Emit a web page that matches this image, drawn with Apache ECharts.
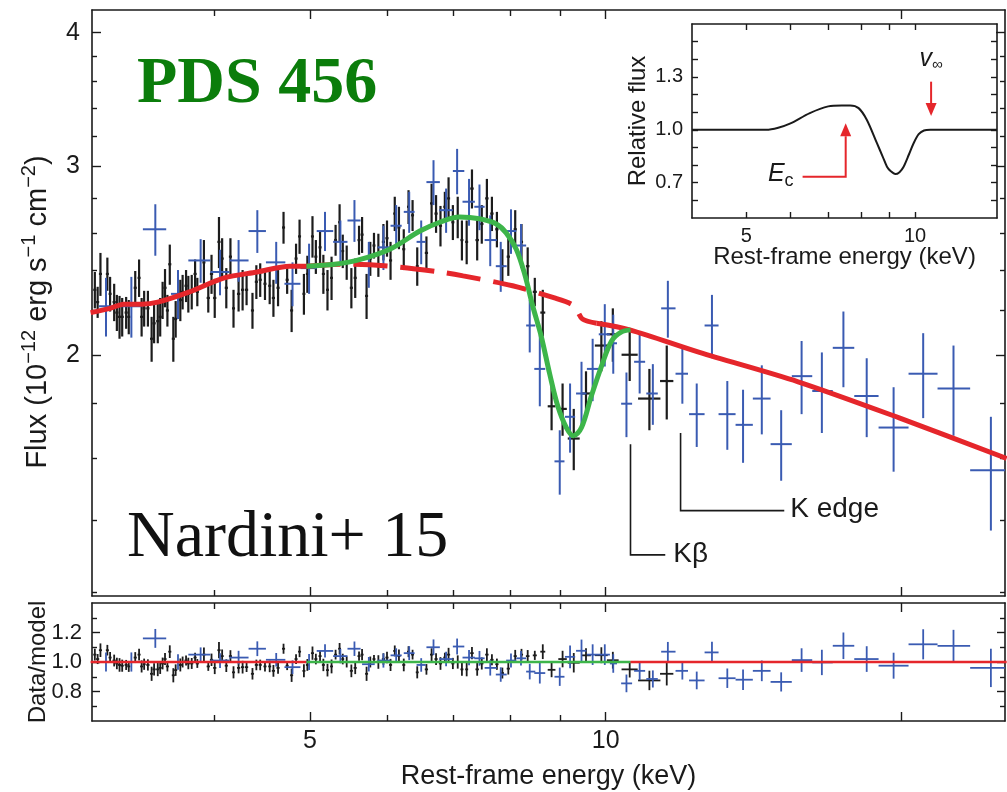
<!DOCTYPE html>
<html><head><meta charset="utf-8">
<script src="https://cdn.jsdelivr.net/npm/echarts@6/dist/echarts.min.js"></script>
<style>html,body{margin:0;padding:0;background:#fff}#c{width:1007px;height:792px}</style>
</head><body><div id="c"></div>
<script>
// ===================== DATA =====================
// XMM-like black points: energy (keV), flux (1e-12 erg/s/cm2), flux error, energy half-width
const blackE = [3.02,3.04,3.06,3.11,3.13,3.16,3.18,3.20,3.22,3.25,3.27,3.32,3.35,3.37,3.39,3.42,3.45,3.47,3.50,3.52,3.54,3.56,3.58,3.60,3.63,3.65,3.69,3.71,3.74,3.76,3.79,3.82,3.84,3.90,
 3.94,3.97,4.00,4.04,4.07,4.11,4.15,4.18,4.23,4.27,4.31,4.37,4.41,4.45,4.50,4.55,4.59,4.64,4.70,4.74,4.79,4.84,4.88,4.93,4.97,
 5.03,5.07,5.12,5.16,5.21,5.26,5.31,5.36,5.40,5.45,5.51,5.56,5.61,5.65,5.71,5.76,5.81,5.87,5.94,5.99,6.04,6.10,6.16,6.23,6.30,6.36,6.43,
 6.57,6.65,6.72,6.79,6.86,6.92,6.99,7.07,7.14,7.22,7.31,7.40,7.48,7.57,7.66,7.75,7.85,7.96,8.09,8.21,
 8.33,8.47,8.63,8.81,9.04,9.28,9.55,9.90,10.17,10.58,11.08,11.54];
const blackF = [2.30,2.24,2.38,2.38,2.28,2.24,2.19,2.17,2.17,2.19,2.17,2.31,2.36,2.17,2.21,2.21,2.07,2.14,2.15,2.17,2.25,2.31,2.20,2.43,2.07,2.16,2.25,2.29,2.32,2.28,2.29,2.38,2.29,2.44,
 2.26,2.38,2.26,2.55,2.46,2.31,2.47,2.21,2.28,2.30,2.30,2.20,2.34,2.35,2.33,2.32,2.26,2.31,2.63,2.35,2.20,2.46,2.58,2.28,2.38,
 2.58,2.47,2.52,2.38,2.30,2.36,2.56,2.66,2.50,2.44,2.31,2.36,2.56,2.59,2.27,2.46,2.53,2.48,2.55,2.57,2.45,2.71,2.63,2.51,2.75,2.70,2.42,
 2.49,2.77,2.71,2.64,2.75,2.80,2.66,2.69,2.56,2.55,2.86,2.56,2.65,2.80,2.71,2.62,2.42,2.47,2.62,2.55,
 2.42,2.29,2.19,1.79,1.78,1.67,1.84,2.04,2.09,2.00,1.82,1.89];
const blackErr = [0.09,0.075,0.11,0.085,0.085,0.09,0.085,0.10,0.09,0.075,0.08,0.085,0.095,0.09,0.085,0.085,0.10,0.09,0.10,0.09,0.09,0.095,0.075,0.105,0.10,0.085,0.10,0.085,0.08,0.09,0.085,0.075,0.07,0.12,
 0.07,0.10,0.095,0.14,0.11,0.10,0.10,0.09,0.085,0.10,0.075,0.085,0.085,0.085,0.08,0.09,0.09,0.09,0.09,0.07,0.10,0.08,0.095,0.10,0.095,
 0.115,0.09,0.09,0.10,0.10,0.11,0.085,0.105,0.09,0.09,0.10,0.10,0.08,0.10,0.11,0.09,0.07,0.115,0.10,0.10,0.10,0.10,0.12,0.11,0.10,0.09,0.10,
 0.09,0.12,0.11,0.115,0.09,0.13,0.10,0.12,0.11,0.12,0.12,0.11,0.11,0.12,0.10,0.10,0.09,0.10,0.11,0.10,
 0.10,0.07,0.11,0.09,0.10,0.11,0.09,0.11,0.12,0.11,0.12,0.15];
const blackDE = [0.011,0.011,0.011,0.011,0.011,0.012,0.012,0.012,0.012,0.012,0.012,0.012,0.012,0.012,0.012,0.013,0.013,0.013,0.013,0.013,0.013,0.013,0.013,0.013,0.013,0.013,0.014,0.014,0.014,0.014,0.014,0.014,0.014,0.014,
 0.015,0.015,0.015,0.015,0.015,0.015,0.015,0.015,0.016,0.016,0.016,0.016,0.016,0.016,0.016,0.016,0.017,0.017,0.017,0.017,0.017,0.017,0.017,0.017,0.017,
 0.018,0.018,0.018,0.018,0.018,0.018,0.018,0.018,0.018,0.02,0.02,0.02,0.02,0.02,0.02,0.02,0.02,0.02,0.022,0.022,0.022,0.022,0.022,0.022,0.022,0.022,0.022,
 0.025,0.025,0.025,0.025,0.025,0.025,0.025,0.025,0.025,0.025,0.03,0.03,0.03,0.03,0.03,0.03,0.03,0.03,0.03,0.03,
 0.035,0.04,0.05,0.08,0.09,0.13,0.11,0.15,0.14,0.2,0.29,0.18];
const blackRatio = [1.05,1.02,1.08,1.08,1.03,1.01,0.99,0.98,0.975,0.98,0.97,1.03,1.05,0.97,0.985,0.98,0.92,0.95,0.95,0.96,0.99,1.02,0.97,1.07,0.91,0.945,0.98,1.0,1.01,0.99,0.99,1.03,0.99,1.05,
 0.97,1.015,0.96,1.08,1.04,0.975,1.04,0.93,0.96,0.965,0.965,0.92,0.98,0.98,0.97,0.97,0.94,0.96,1.09,0.975,0.91,1.02,1.07,0.94,0.98,
 1.06,1.02,1.04,0.98,0.945,0.97,1.05,1.09,1.02,1.0,0.94,0.96,1.04,1.05,0.92,1.0,1.02,1.0,1.02,1.03,0.98,1.075,1.04,0.98,1.07,1.05,0.93,
 0.95,1.05,1.02,0.99,1.03,1.05,0.99,1.0,0.95,0.95,1.06,0.95,0.99,1.05,1.015,0.985,0.925,0.955,1.04,1.05,
 1.04,1.045,1.07,0.947,1.02,0.995,1.045,1.046,1.012,0.95,0.875,0.92];
const blackRatioErr = [0.04,0.034,0.046,0.036,0.037,0.04,0.039,0.046,0.041,0.034,0.037,0.037,0.04,0.041,0.038,0.038,0.048,0.042,0.046,0.041,0.04,0.041,0.034,0.043,0.048,0.039,0.044,0.037,0.034,0.039,0.037,0.032,0.03,0.049,
 0.03,0.042,0.042,0.055,0.045,0.043,0.04,0.041,0.037,0.043,0.033,0.039,0.036,0.036,0.034,0.039,0.04,0.039,0.034,0.03,0.045,0.033,0.037,0.044,0.04,
 0.045,0.036,0.035,0.042,0.043,0.047,0.033,0.039,0.036,0.037,0.043,0.042,0.031,0.038,0.048,0.037,0.028,0.046,0.039,0.039,0.041,0.037,0.045,0.043,0.037,0.033,0.041,
 0.036,0.043,0.04,0.043,0.033,0.046,0.038,0.045,0.043,0.047,0.042,0.043,0.041,0.043,0.037,0.038,0.037,0.04,0.042,0.039,
 0.041,0.031,0.05,0.05,0.056,0.066,0.049,0.054,0.057,0.055,0.066,0.079];

// NuSTAR-like blue points: centre energy, bin edges, flux, flux error, ratio, ratio error
const blueE  = [3.10,3.29,3.48,3.67,3.87,4.05,4.23,4.42,4.62,4.80,4.99,5.18,5.37,5.55,5.74,5.94,6.12,6.31,6.49,6.68,6.88,7.06,7.26,7.44,7.63,7.82,8.01,8.20,8.37,8.57,8.98,9.20,9.45,9.70,9.98,10.18,10.50,10.83,11.17,11.57,11.97,12.38,12.83,13.30,13.80,14.42,15.09,15.83,16.60,17.46,18.44,19.64,21.05,22.60,24.67];
const blueLo = [3.05,3.21,3.38,3.61,3.76,3.96,4.14,4.33,4.51,4.71,4.89,5.08,5.28,5.46,5.65,5.86,6.04,6.23,6.42,6.57,6.77,6.99,7.15,7.35,7.53,7.73,7.92,8.11,8.30,8.46,8.87,9.09,9.33,9.57,9.84,10.10,10.37,10.69,11.00,11.39,11.78,12.16,12.61,13.03,13.56,14.12,14.72,15.47,16.23,17.03,17.91,18.96,20.34,21.77,23.50];
const blueHi = [3.14,3.37,3.57,3.74,3.96,4.14,4.33,4.51,4.72,4.89,5.08,5.28,5.46,5.63,5.82,6.04,6.20,6.39,6.56,6.78,6.99,7.18,7.36,7.53,7.75,7.93,8.11,8.30,8.48,8.68,9.08,9.31,9.56,9.84,10.10,10.27,10.64,10.97,11.30,11.78,12.13,12.61,13.03,13.56,14.12,14.72,15.47,16.23,17.03,17.91,18.96,20.34,21.77,23.50,25.90];
const blueF  = [2.22,2.22,2.62,2.28,2.45,2.39,2.45,2.61,2.44,2.33,2.41,2.61,2.55,2.67,2.43,2.52,2.64,2.72,2.55,2.90,2.73,2.97,2.78,2.75,2.56,2.42,2.61,2.53,2.13,1.94,1.59,1.75,1.84,1.94,2.09,2.05,1.80,1.97,1.84,2.21,1.92,1.76,2.13,1.76,1.72,1.82,1.65,1.91,1.85,2.03,1.83,1.71,1.92,1.86,1.56];
const blueErr = [0.14,0.145,0.145,0.12,0.115,0.117,0.11,0.12,0.11,0.11,0.13,0.11,0.12,0.12,0.12,0.12,0.12,0.12,0.12,0.14,0.13,0.145,0.14,0.135,0.14,0.13,0.125,0.12,0.12,0.15,0.11,0.13,0.13,0.13,0.14,0.13,0.125,0.13,0.12,0.135,0.12,0.12,0.145,0.13,0.135,0.135,0.125,0.15,0.16,0.165,0.155,0.155,0.175,0.18,0.19];
const blueRatio = [1.0,1.0,1.16,1.0,1.05,1.01,1.03,1.09,1.015,0.965,1.0,1.075,1.04,1.09,0.985,1.01,1.045,1.06,0.98,1.10,1.02,1.105,1.03,1.025,0.96,0.915,1.01,1.025,0.935,0.925,0.90,1.035,1.076,1.05,1.05,0.99,0.855,0.94,0.885,1.07,0.94,0.875,1.065,0.89,0.88,0.94,0.865,1.013,0.997,1.11,1.02,0.975,1.12,1.11,0.96];
const blueRatioErr = [0.064,0.065,0.064,0.052,0.049,0.05,0.046,0.05,0.046,0.046,0.054,0.045,0.049,0.049,0.049,0.048,0.048,0.047,0.046,0.053,0.049,0.054,0.052,0.05,0.052,0.049,0.048,0.049,0.053,0.071,0.062,0.077,0.076,0.07,0.07,0.063,0.06,0.062,0.058,0.066,0.059,0.06,0.072,0.066,0.069,0.07,0.065,0.08,0.086,0.09,0.087,0.088,0.102,0.108,0.13];

// Continuum model (red) and wind model (green)
const redLowE  = [2.99,3.13,3.23,3.37,3.50,3.77,4.09,4.42,4.77,4.96];
const redLowF  = [2.19,2.21,2.23,2.23,2.24,2.29,2.36,2.39,2.42,2.42];
const redDashE = [4.96,5.45,6.03,6.78,7.16,8.04,8.87,9.23,9.35,9.47,9.79];
const redDashF = [2.42,2.43,2.42,2.39,2.37,2.32,2.26,2.23,2.20,2.16,2.14];
const redHighE = [9.79,10.58,12.46,15.7,19.9,25.6];
const redHighF = [2.14,2.11,2.01,1.887,1.746,1.60];
const windE = [4.96,5.3,5.58,6.03,6.47,6.78,7.10,7.44,7.74,7.92,8.11,8.27,8.43,8.60,8.77,8.94,9.12,9.27,9.45,9.67,9.90,10.14,10.37,10.6];
const windF = [2.42,2.43,2.45,2.51,2.61,2.66,2.69,2.68,2.65,2.60,2.51,2.38,2.22,2.08,1.92,1.79,1.71,1.68,1.71,1.83,1.95,2.06,2.10,2.11];

// Residual-panel reference lines (data/model = 1)
const ratioLowE = [2.99, 4.96];
const ratioWindE = [4.96, 10.6];
const ratioHighE = [10.6, 25.6];
const ratioUnity = [1, 1];

// Inset: relative flux profile
const insetE   = [4.0,5.0,5.43,5.7,5.98,6.49,7.0,7.4,7.66,7.93,8.2,8.55,8.75,8.91,9.05,9.22,9.38,9.54,9.75,9.94,10.15,10.37,10.65,14.0];
const insetRel = [1.0,1.0,1.0,1.012,1.035,1.095,1.133,1.138,1.138,1.123,1.057,0.924,0.85,0.791,0.765,0.749,0.76,0.791,0.86,0.924,0.975,0.996,1.0,1.0];
const ecArrowE = [6.30, 7.52, 7.52];
const ecArrowRel = [0.734, 0.734, 1.037];
const vinfArrowE = [10.68, 10.68];
const vinfArrowRel = [1.273, 1.078];

// Annotation leader lines (main panel)
const kBetaE = [10.6, 10.6, 11.5];
const kBetaF = [1.65, 1.30, 1.30];
const kEdgeE = [11.92, 11.92, 15.2];
const kEdgeF = [1.69, 1.43, 1.43];

// Tick values
const fluxMajor = [2, 3, 4];
const fluxMinor = [1.2,1.4,1.6,1.8,2.2,2.4,2.6,2.8,3.2,3.4,3.6,3.8];
const energyMajor = [5, 10, 20];
const energyMinor = [4, 6, 7, 8, 9];
const energyLabels = [5, 10];
const ratioMajor = [0.8, 1.0, 1.2];
const ratioMinor = [0.7, 0.9, 1.1, 1.3];
const insetXTicks = [5, 6, 7, 8, 9, 10];
const insetXLabels = [5, 10];
const insetYTicks = [0.6,0.7,0.8,0.9,1.0,1.1,1.2,1.3,1.4,1.5];
const insetYLabels = [0.7, 1.0, 1.3];

// ===================== STYLE =====================
const SANS = '"Liberation Sans", Arial, sans-serif';
const SERIF = '"Liberation Serif", "Times New Roman", serif';
const INK = '#1a1a1a';
const BLUE = '#3a5bb2';
const RED = '#e5262b';
const GREEN = '#3db54a';

function tickAxis(o) {
  const base = {
    gridIndex: o.grid, position: o.pos, type: o.type, min: o.min, max: o.max,
    splitLine: { show: false },
    axisLine: { show: !!o.line, lineStyle: { color: INK, width: 1.6 } },
    axisTick: { show: true, inside: true, length: o.len, customValues: o.ticks, lineStyle: { color: INK, width: 1.4 } },
    axisLabel: { show: false },
    minorTick: { show: false }
  };
  if (o.type === 'log') base.logBase = 10;
  if (o.labels) {
    base.axisLabel = { show: true, customValues: o.labels, fontSize: o.fs, fontFamily: SANS, color: INK, margin: o.margin,
      formatter: o.fmt || (v => String(v)) };
  }
  if (o.name) {
    base.name = o.name; base.nameLocation = 'middle'; base.nameGap = o.nameGap;
    base.nameMoveOverlap = false;
    base.nameTextStyle = Object.assign({ fontSize: o.nfs, fontFamily: SANS, color: INK }, o.nameStyle || {});
  }
  return base;
}

const X0 = { type: 'log', min: 3, max: 25.5 };
const XI = { type: 'log', min: 4, max: 14 };
const xAxis = [
  tickAxis(Object.assign({ grid: 0, pos: 'bottom', ticks: energyMajor, len: 9, line: true }, X0)),
  tickAxis(Object.assign({ grid: 0, pos: 'top', ticks: energyMajor, len: 9, line: true }, X0)),
  tickAxis(Object.assign({ grid: 0, pos: 'bottom', ticks: energyMinor, len: 6 }, X0)),
  tickAxis(Object.assign({ grid: 0, pos: 'top', ticks: energyMinor, len: 6 }, X0)),
  tickAxis(Object.assign({ grid: 1, pos: 'bottom', ticks: energyMajor, len: 9, line: true, labels: energyLabels, fs: 25, margin: 8,
    name: 'Rest-frame energy (keV)', nameGap: 42, nfs: 27 }, X0)),
  tickAxis(Object.assign({ grid: 1, pos: 'top', ticks: energyMajor, len: 9, line: true }, X0)),
  tickAxis(Object.assign({ grid: 1, pos: 'bottom', ticks: energyMinor, len: 6 }, X0)),
  tickAxis(Object.assign({ grid: 1, pos: 'top', ticks: energyMinor, len: 6 }, X0)),
  tickAxis(Object.assign({ grid: 2, pos: 'bottom', ticks: insetXTicks, len: 6, line: true, labels: insetXLabels, fs: 20, margin: 8,
    name: 'Rest-frame energy (keV)', nameGap: 27, nfs: 24 }, XI)),
  tickAxis(Object.assign({ grid: 2, pos: 'top', ticks: insetXTicks, len: 6, line: true }, XI))
];

const Y0 = { type: 'log', min: 1.19, max: 4.2 };
const Y1 = { type: 'value', min: 0.6, max: 1.4 };
const YI = { type: 'value', min: 0.5, max: 1.6 };
const fmt1 = v => Number(v).toFixed(1);
const yAxis = [
  tickAxis(Object.assign({ grid: 0, pos: 'left', ticks: fluxMajor, len: 9, line: true, labels: fluxMajor, fs: 25, margin: 12,
    name: 'Flux (10{s|\u221212} erg s{s|\u22121} cm{s|\u22122})', nameGap: 35, nfs: 29,
    nameStyle: { lineHeight: 38, padding: [0, 18, 0, 0], rich: { s: { fontSize: 20, fontFamily: SANS, color: INK, verticalAlign: 'top', lineHeight: 22 } } } }, Y0)),
  tickAxis(Object.assign({ grid: 0, pos: 'right', ticks: fluxMajor, len: 9, line: true }, Y0)),
  tickAxis(Object.assign({ grid: 0, pos: 'left', ticks: fluxMinor, len: 5 }, Y0)),
  tickAxis(Object.assign({ grid: 0, pos: 'right', ticks: fluxMinor, len: 5 }, Y0)),
  tickAxis(Object.assign({ grid: 1, pos: 'left', ticks: ratioMajor, len: 8, line: true, labels: ratioMajor, fs: 22, margin: 10, fmt: fmt1,
    name: 'Data/model', nameGap: 42, nfs: 24 }, Y1)),
  tickAxis(Object.assign({ grid: 1, pos: 'right', ticks: ratioMajor, len: 8, line: true }, Y1)),
  tickAxis(Object.assign({ grid: 1, pos: 'left', ticks: ratioMinor, len: 5 }, Y1)),
  tickAxis(Object.assign({ grid: 1, pos: 'right', ticks: ratioMinor, len: 5 }, Y1)),
  tickAxis(Object.assign({ grid: 2, pos: 'left', ticks: insetYTicks, len: 6, line: true, labels: insetYLabels, fs: 20, margin: 9, fmt: fmt1,
    name: 'Relative flux', nameGap: 42, nfs: 24 }, YI)),
  tickAxis(Object.assign({ grid: 2, pos: 'right', ticks: insetYTicks, len: 6, line: true }, YI))
];

// ===================== RENDERERS =====================
function pointBars(color, lw) {
  return function (params, api) {
    const e = api.value(0), f = api.value(1), df = api.value(2), lo = api.value(3), hi = api.value(4);
    const t = api.coord([e, f + df]), b = api.coord([e, f - df]);
    const l = api.coord([lo, f]), r = api.coord([hi, f]);
    return { type: 'group', children: [
      { type: 'line', shape: { x1: t[0], y1: t[1], x2: b[0], y2: b[1] }, style: { stroke: color, lineWidth: lw } },
      { type: 'line', shape: { x1: l[0], y1: l[1], x2: r[0], y2: r[1] }, style: { stroke: color, lineWidth: lw } }
    ] };
  };
}
function blackData(yArr, eArr) {
  return blackE.map((e, i) => [e, yArr[i], eArr[i], e - blackDE[i], e + blackDE[i]]);
}
function blueData(yArr, eArr) {
  return blueE.map((e, i) => [e, yArr[i], eArr[i], blueLo[i], blueHi[i]]);
}
function pairs(xs, ys) { return xs.map((x, i) => [x, ys[i]]); }

function leader(xs, ys, color, lw, head, texts) {
  return function (params, api) {
    const pts = xs.map((x, i) => api.coord([x, ys[i]]));
    const n = pts.length;
    const linePts = pts.slice();
    const children = [];
    if (head) {
      const a = pts[n - 2], b = pts[n - 1];
      const dx = b[0] - a[0], dy = b[1] - a[1], L = Math.hypot(dx, dy);
      const ux = dx / L, uy = dy / L, hl = 13, hw = 5.5;
      const base = [b[0] - ux * hl, b[1] - uy * hl];
      linePts[n - 1] = base;
      children.push({ type: 'polygon', shape: { points: [b, [base[0] - uy * hw, base[1] + ux * hw], [base[0] + uy * hw, base[1] - ux * hw]] },
        style: { fill: color } });
    }
    children.unshift({ type: 'polyline', shape: { points: linePts }, style: { stroke: color, lineWidth: lw, fill: 'none' } });
    (texts || []).forEach(t => {
      const p = pts[t.at];
      children.push({ type: 'text', x: p[0] + t.dx, y: p[1] + t.dy,
        style: { text: t.text, fontSize: t.fs, fontFamily: SANS, fontStyle: t.italic ? 'italic' : 'normal', fill: INK, align: t.align, verticalAlign: 'middle' } });
    });
    return { type: 'group', children };
  };
}

function lineSeries(xi, yi, data, color, width, type, z, smooth) {
  return { type: 'line', xAxisIndex: xi, yAxisIndex: yi, data, showSymbol: false, symbol: 'none', smooth: smooth,
    lineStyle: { color, width, type: type || 'solid', cap: 'butt' }, z, silent: true };
}

const series = [
  // main panel
  { type: 'custom', xAxisIndex: 0, yAxisIndex: 0, renderItem: pointBars('#1c1c1c', 2.2), data: blackData(blackF, blackErr), encode: { x: 0, y: 1 }, z: 2, clip: true, silent: true },
  { type: 'custom', xAxisIndex: 0, yAxisIndex: 0, renderItem: pointBars(BLUE, 2.0), data: blueData(blueF, blueErr), encode: { x: 0, y: 1 }, z: 3, clip: true, silent: true },
  lineSeries(0, 0, pairs(redLowE, redLowF), RED, 5, 'solid', 5, 0.3),
  lineSeries(0, 0, pairs(redDashE, redDashF), RED, 5, [34, 13], 5, 0.3),
  lineSeries(0, 0, pairs(redHighE, redHighF), RED, 5, 'solid', 5, 0.3),
  lineSeries(0, 0, pairs(windE, windF), GREEN, 5, 'solid', 6, 0.35),
  { type: 'custom', xAxisIndex: 0, yAxisIndex: 0, data: [[kBetaE[0], kBetaF[0]]], encode: { x: 0, y: 1 }, z: 7, silent: true,
    renderItem: leader(kBetaE, kBetaF, INK, 1.6, false, [{ at: 2, text: 'K\u03b2', dx: 8, dy: -1, fs: 28, align: 'left' }]) },
  { type: 'custom', xAxisIndex: 0, yAxisIndex: 0, data: [[kEdgeE[0], kEdgeF[0]]], encode: { x: 0, y: 1 }, z: 7, silent: true,
    renderItem: leader(kEdgeE, kEdgeF, INK, 1.6, false, [{ at: 2, text: 'K edge', dx: 6, dy: -1, fs: 28, align: 'left' }]) },
  // residual panel
  { type: 'custom', xAxisIndex: 4, yAxisIndex: 4, renderItem: pointBars('#1c1c1c', 1.8), data: blackData(blackRatio, blackRatioErr), encode: { x: 0, y: 1 }, z: 2, clip: true, silent: true },
  { type: 'custom', xAxisIndex: 4, yAxisIndex: 4, renderItem: pointBars(BLUE, 1.8), data: blueData(blueRatio, blueRatioErr), encode: { x: 0, y: 1 }, z: 3, clip: true, silent: true },
  lineSeries(4, 4, pairs(ratioLowE, ratioUnity), RED, 2.5, 'solid', 5, false),
  lineSeries(4, 4, pairs(ratioWindE, ratioUnity), GREEN, 2.5, 'solid', 5, false),
  lineSeries(4, 4, pairs(ratioHighE, ratioUnity), RED, 2.5, 'solid', 5, false),
  // inset
  lineSeries(8, 8, pairs(insetE, insetRel), INK, 2, 'solid', 5, 0.3),
  { type: 'custom', xAxisIndex: 8, yAxisIndex: 8, data: [[ecArrowE[0], ecArrowRel[0]]], encode: { x: 0, y: 1 }, z: 7, silent: true,
    renderItem: (function () {
      const f = leader(ecArrowE, ecArrowRel, RED, 2, true, []);
      return function (params, api) {
        const g = f(params, api);
        const p = api.coord([ecArrowE[0], ecArrowRel[0]]);
        g.children.push({ type: 'text', x: p[0] - 9, y: p[1] + 4, style: { text: 'c', fontSize: 18, fontFamily: SANS, fill: INK, align: 'right', verticalAlign: 'middle' } });
        g.children.push({ type: 'text', x: p[0] - 18, y: p[1] - 3, style: { text: 'E', fontSize: 25, fontStyle: 'italic', fontFamily: SANS, fill: INK, align: 'right', verticalAlign: 'middle' } });
        return g;
      };
    })() },
  { type: 'custom', xAxisIndex: 8, yAxisIndex: 8, data: [[vinfArrowE[0], vinfArrowRel[0]]], encode: { x: 0, y: 1 }, z: 7, silent: true,
    renderItem: (function () {
      const f = leader(vinfArrowE, vinfArrowRel, RED, 2, true, []);
      return function (params, api) {
        const g = f(params, api);
        const p = api.coord([vinfArrowE[0], vinfArrowRel[0]]);
        g.children.push({ type: 'text', x: p[0] + 1, y: p[1] - 23, style: { text: 'v', fontSize: 25, fontStyle: 'italic', fontFamily: SANS, fill: INK, align: 'right', verticalAlign: 'middle' } });
        g.children.push({ type: 'text', x: p[0] + 1, y: p[1] - 17, style: { text: '\u221e', fontSize: 15, fontFamily: SANS, fill: INK, align: 'left', verticalAlign: 'middle' } });
        return g;
      };
    })() }
];

const option = {
  animation: false,
  backgroundColor: '#fff',
  grid: [
    { left: 92, right: 2, top: 10, height: 586, outerBoundsMode: 'none' },
    { left: 92, right: 2, top: 603, height: 118, outerBoundsMode: 'none' },
    { left: 692, top: 24, width: 305, height: 194, show: true, backgroundColor: '#fff', borderWidth: 0, outerBoundsMode: 'none' }
  ],
  xAxis, yAxis, series,
  graphic: [
    { type: 'text', x: 137, y: 85, z: 10, style: { text: 'PDS 456', font: 'bold 66px ' + SERIF, fill: '#0b7d0b', align: 'left', verticalAlign: 'middle' } },
    { type: 'text', x: 127, y: 539, z: 10, style: { text: 'Nardini+ 15', font: '66px ' + SERIF, fill: '#111', align: 'left', verticalAlign: 'middle' } }
  ]
};
const chart = echarts.init(document.getElementById('c'), null, { renderer: 'canvas' });
chart.setOption(option);
</script>
</body></html>
